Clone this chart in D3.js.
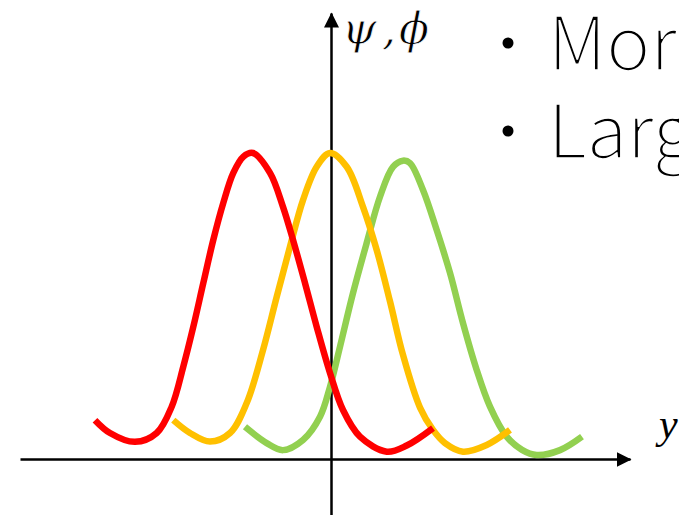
<!DOCTYPE html>
<html><head><meta charset="utf-8">
<script src="https://cdn.jsdelivr.net/npm/d3@7"></script>
<style>body{margin:0;background:#fff}svg{display:block}</style>
</head><body><div id="chart"></div>
<script>
// Series values: [position, amplitude]
const greenCurve = [[-0.85,0.105],[-0.633,0.052],[-0.47,0.029],[-0.27,0.062],[-0.10,0.138],[0,0.236],[0.10,0.367],[0.23,0.542],[0.367,0.706],[0.50,0.857],[0.63,0.955],[0.73,0.975],[0.80,0.967],[0.93,0.879],[1.067,0.748],[1.20,0.608],[1.33,0.444],[1.467,0.291],[1.60,0.171],[1.767,0.073],[1.92,0.030],[2.067,0.013],[2.30,0.029],[2.52,0.073]];
const orangeCurve = [[-1.567,0.127],[-1.40,0.085],[-1.20,0.057],[-1.00,0.085],[-0.833,0.183],[-0.67,0.356],[-0.533,0.530],[-0.40,0.694],[-0.27,0.846],[-0.133,0.955],[0,1.0],[0.167,0.955],[0.33,0.824],[0.467,0.683],[0.60,0.515],[0.73,0.340],[0.90,0.168],[1.03,0.095],[1.15,0.052],[1.33,0.024],[1.567,0.046],[1.80,0.095]];
const redCurve = [[-2.35,0.127],[-2.20,0.085],[-1.95,0.056],[-1.733,0.085],[-1.583,0.171],[-1.467,0.302],[-1.367,0.432],[-1.267,0.575],[-1.167,0.716],[-1.067,0.837],[-0.967,0.935],[-0.867,0.988],[-0.77,1.0],[-0.60,0.935],[-0.47,0.824],[-0.37,0.716],[-0.25,0.575],[-0.133,0.432],[0,0.281],[0.13,0.160],[0.30,0.073],[0.567,0.024],[0.767,0.044],[1.03,0.101]];
const seriesNames = ["green","orange","red"];
const seriesColors = ["#92D050","#FFC000","#FF0000"];
const yLabelParts = ["ψ", ",", "ϕ"];
const xLabel = "y";
const bulletLines = ["Mor","Larg"];

const W = 679, H = 515;
const svg = d3.select("#chart").append("svg").attr("width", W).attr("height", H);

const x = d3.scaleLinear().domain([-3.1, 3.0]).range([20, 630]);
const y = d3.scaleLinear().domain([0, 1]).range([459, 153]);
const yAxisScale = d3.scaleLinear().domain([y.invert(516), y.invert(13)]).range([516, 13]);

const defs = svg.append("defs");
defs.append("marker").attr("id","arrow")
  .attr("markerUnits","userSpaceOnUse").attr("viewBox","0 -8 16 16")
  .attr("markerWidth",16).attr("markerHeight",16)
  .attr("refX",14).attr("refY",0).attr("orient","auto")
  .append("path").attr("d","M0,-7.5L15,0L0,7.5Z").attr("fill","#000");

// x axis
const gx = svg.append("g").attr("transform", `translate(0,${y(0)})`)
  .call(d3.axisBottom(x).tickValues([]).tickSizeOuter(0));
gx.select(".domain").attr("stroke","#000").attr("stroke-width",2.5).attr("marker-end","url(#arrow)");

// y axis
const gy = svg.append("g").attr("transform", `translate(${x(0)+1},0)`)
  .call(d3.axisLeft(yAxisScale).tickValues([]).tickSizeOuter(0));
gy.select(".domain").attr("stroke","#000").attr("stroke-width",2.5).attr("marker-end","url(#arrow)");

const line = d3.line().x(d => x(d[0])).y(d => y(d[1])).curve(d3.curveCatmullRom.alpha(0.5));
const allSeries = [greenCurve, orangeCurve, redCurve];
svg.append("g").selectAll("path").data(allSeries).join("path")
  .attr("d", line)
  .attr("fill","none")
  .attr("stroke",(d,i)=>seriesColors[i])
  .attr("stroke-width",6.5)
  .attr("stroke-linecap","butt")
  .attr("stroke-linejoin","round");

// axis labels
const yl = svg.append("text").attr("y", 44)
  .attr("font-family","'DejaVu Serif','Liberation Serif',serif").attr("font-style","italic")
  .attr("font-size",44).attr("fill","#000")
  .attr("stroke","#fff").attr("stroke-width",0.8);
const partX = [342, 382, 399];
yLabelParts.forEach((p,i) => yl.append("tspan").attr("x", partX[i]).text(p));
svg.append("text").attr("x", 659).attr("y", 438)
  .attr("font-family","'Liberation Serif','DejaVu Serif',serif").attr("font-style","italic")
  .attr("font-size",42).attr("fill","#000").text(xLabel);

// bullet text
const tg = svg.append("g");
bulletLines.forEach((t,i) => {
  tg.append("circle").attr("cx",508).attr("cy",43 + i*88).attr("r",5.5).attr("fill","#000");
});
const bt = tg.append("text").attr("y",70)
  .attr("font-family","'Noto Sans CJK JP','Noto Sans',sans-serif").attr("font-weight",300)
  .attr("font-size",74).attr("fill","#000")
  .attr("stroke","#fff").attr("stroke-width",1.6);
bulletLines.forEach((t,i) => {
  bt.append("tspan").attr("x",548).attr("dy", i === 0 ? 0 : 88).text(t);
});
</script></body></html>
